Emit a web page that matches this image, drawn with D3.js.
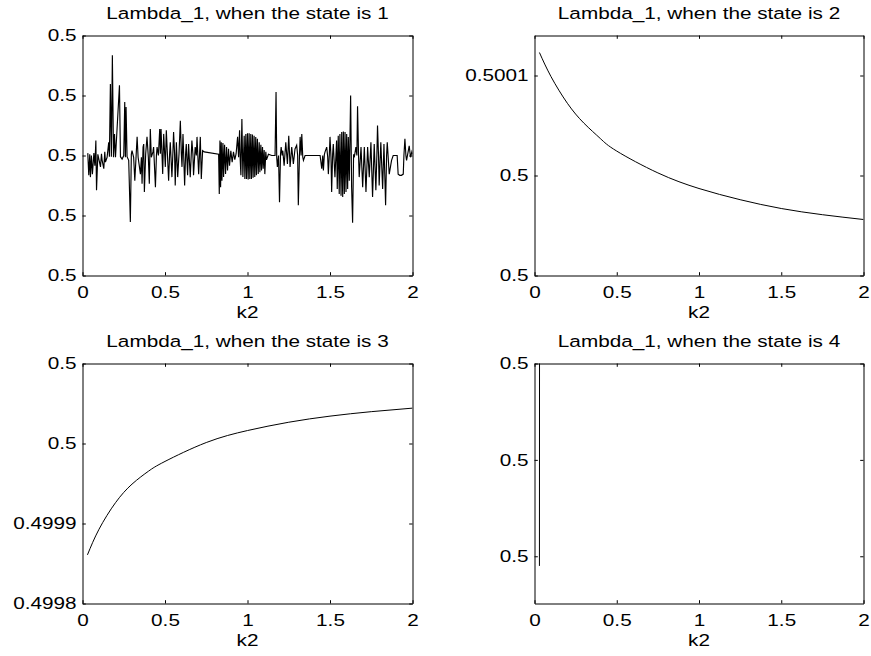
<!DOCTYPE html>
<html><head><meta charset="utf-8">
<script src="https://cdn.jsdelivr.net/npm/d3@7"></script>
<style>
body{margin:0;background:#fff}
svg text{font-family:"Liberation Sans",Arial,Helvetica,sans-serif;fill:#000}
</style></head>
<body><svg id="c" width="871" height="656"></svg>
<script>
// ---------- data ----------
const xTicks=[0,0.5,1,1.5,2];
const xTickLabels=["0","0.5","1","1.5","2"];
const xLabel="k2";
const titles=["Lambda_1, when the state is 1","Lambda_1, when the state is 2","Lambda_1, when the state is 3","Lambda_1, when the state is 4"];

// state 1 (noisy)
const s1x=[0.032,0.038,0.044,0.048,0.054,0.060,0.069,0.075,0.081,0.085,0.093,0.109,0.115,0.119,0.129,0.135,0.139,0.149,0.159,0.163,
0.169,0.175,0.181,0.188,0.194,0.200,0.224,0.230,0.240,0.250,0.256,0.260,0.264,0.270,0.280,0.290,0.296,0.300,0.310,0.317,
0.325,0.331,0.337,0.351,0.357,0.361,0.367,0.371,0.375,0.383,0.391,0.399,0.405,0.411,0.417,0.427,0.431,0.442,0.448,0.452,
0.460,0.468,0.472,0.476,0.482,0.486,0.492,0.498,0.502,0.508,0.514,0.522,0.528,0.532,0.542,0.548,0.552,0.558,0.562,0.569,
0.577,0.585,0.593,0.599,0.603,0.609,0.613,0.619,0.625,0.629,0.637,0.643,0.653,0.663,0.669,0.673,0.683,0.690,0.694,0.704,
0.714,0.720,0.728,0.738,0.825,0.829,0.833,0.837,0.841,0.845,0.851,0.855,0.861,0.867,0.873,0.879,0.885,0.891,0.899,0.907,
0.915,0.923,0.931,0.940,0.946,0.952,0.956,0.960,0.966,0.972,0.980,0.984,0.990,0.994,1.000,1.004,1.010,1.014,1.020,1.024,
1.030,1.034,1.040,1.044,1.050,1.054,1.060,1.065,1.071,1.075,1.081,1.085,1.091,1.095,1.101,1.105,1.111,1.115,1.127,1.147,
1.167,1.173,1.177,1.181,1.188,1.194,1.200,1.204,1.210,1.214,1.222,1.232,1.242,1.250,1.258,1.268,1.278,1.288,1.298,1.304,
1.308,1.315,1.319,1.325,1.329,1.335,1.339,1.349,1.440,1.450,1.456,1.460,1.466,1.470,1.480,1.486,1.490,1.496,1.500,1.506,
1.510,1.516,1.520,1.530,1.540,1.544,1.550,1.556,1.560,1.567,1.571,1.577,1.581,1.587,1.591,1.597,1.601,1.607,1.611,1.617,
1.625,1.631,1.637,1.643,1.647,1.657,1.663,1.667,1.673,1.677,1.688,1.698,1.708,1.718,1.728,1.738,1.748,1.758,1.768,1.778,
1.784,1.788,1.794,1.798,1.808,1.819,1.827,1.837,1.843,1.847,1.859,1.873,1.883,1.907,1.913,1.923,1.933,1.944,1.948,1.954,
1.960,1.964,1.980,1.988,1.996,2.000];
const s1y=[0.5000004,0.4999967,0.5000002,0.4999964,0.5,0.4999969,0.5000004,0.4999983,0.5000025,0.4999942,0.5000002,0.4999981,0.5000003,0.4999992,0.4999978,0.5000006,0.4999989,0.4999997,0.5000022,0.4999998,
0.5000119,0.4999998,0.5000167,0.4999997,0.5000036,0.4999997,0.5000117,0.4999998,0.4999994,0.5,0.5000089,0.4999997,0.5000081,0.4999998,0.4999992,0.4999889,0.5000002,0.5000008,0.4999997,0.4999958,
0.5,0.5000031,0.4999997,0.4999969,0.4999997,0.4999953,0.5000014,0.5000019,0.4999939,0.5000003,0.5000031,0.4999997,0.4999953,0.5000044,0.4999997,0.5000006,0.5000014,0.4999947,0.5,0.5000014,
0.5,0.5000044,0.5000003,0.5000044,0.5,0.4999969,0.5000036,0.5000003,0.4999981,0.5000042,0.5000006,0.4999958,0.5000003,0.5000022,0.4999964,0.5000006,0.5000039,0.5000003,0.499995,0.5000022,
0.4999964,0.5000003,0.5000058,0.5000003,0.4999981,0.5000036,0.5000003,0.499995,0.5000003,0.5000019,0.4999967,0.5000019,0.4999964,0.5000025,0.5000003,0.4999967,0.5000014,0.5,0.5000031,0.4999969,
0.5000031,0.4999961,0.5000008,0.5000006,0.5000002,0.4999936,0.5000025,0.4999947,0.5000022,0.4999958,0.5000021,0.4999964,0.5000018,0.4999969,0.5000014,0.4999975,0.5000011,0.4999983,0.5000008,0.4999989,
0.5000006,0.4999993,0.5000003,0.5000031,0.4999997,0.5000042,0.4999992,0.4999967,0.5000061,0.4999964,0.5000033,0.4999961,0.5000036,0.4999961,0.5000037,0.499996,0.5000037,0.4999961,0.5000036,0.4999961,
0.5000035,0.4999963,0.5000033,0.4999964,0.5000031,0.4999967,0.5000028,0.4999969,0.5000022,0.4999972,0.5000018,0.4999975,0.5000014,0.4999978,0.5000009,0.4999969,0.5000006,0.4999993,0.5000002,0.5,
0.5,0.5000106,0.4999997,0.4999981,0.5,0.4999922,0.5000002,0.5000014,0.5,0.5000008,0.4999983,0.5000022,0.4999986,0.5000033,0.4999981,0.5000014,0.4999986,0.5000011,0.5000017,0.5,
0.4999917,0.5,0.5000031,0.5,0.5000036,0.4999997,0.4999992,0.5,0.5,0.4999978,0.5,0.4999975,0.5000002,0.5000006,0.5000014,0.4999998,0.4999969,0.5000002,0.5000031,0.4999997,
0.4999939,0.5000002,0.5000019,0.4999964,0.5000025,0.4999944,0.5000033,0.4999936,0.5000036,0.4999933,0.5000039,0.4999931,0.500004,0.4999936,0.5000039,0.4999939,0.5000036,0.4999944,0.5000031,0.4999958,
0.50001,0.4999947,0.4999888,0.5000002,0.4999997,0.5000014,0.5,0.5000082,0.5,0.4999964,0.5000014,0.4999947,0.5000014,0.4999939,0.5000014,0.4999964,0.5000022,0.4999931,0.5000019,0.4999942,
0.5,0.500005,0.5,0.499995,0.5000022,0.4999944,0.5000019,0.4999917,0.5,0.5000022,0.4999969,0.4999992,0.5,0.5,0.4999969,0.4999967,0.4999967,0.4999969,0.5,0.5000028,
0.5,0.4999992,0.5000016,0.4999997,0.5000006,0.5000002];
const y1Domain=[0.49998,0.50002];
const y1Ticks=[0.49998,0.49999,0.5,0.50001,0.50002];
const y1Labels=["0.5","0.5","0.5","0.5","0.5"];

// state 2
const s2x=[0.03,0.1,0.2,0.3,0.4,0.5,0.75,1,1.25,1.5,1.75,2];
const s2y=[0.5001115,0.5000995,0.5000861,0.5000762,0.5000685,0.5000622,0.5000513,0.5000435,0.5000379,0.5000335,0.5000304,0.5000280];
const y2Domain=[0.5,0.50012];
const y2Ticks=[0.5,0.50005,0.5001];
const y2Labels=["0.5","0.5","0.5001"];

// state 3
const s3x=[0.03,0.1,0.2,0.3,0.4,0.5,0.75,1,1.25,1.5,1.75,2];
const s3y=[0.4998804,0.4998964,0.4999130,0.4999246,0.4999327,0.4999388,0.4999506,0.4999581,0.4999633,0.4999671,0.4999699,0.4999721];
const y3Domain=[0.49985,0.5];
const y3Ticks=[0.49985,0.4999,0.49995,0.5];
const y3Labels=["0.4998","0.4999","0.5","0.5"];

// state 4
const s4x=[0.030,0.031];
const s4y=[0.4999989,0.5000030];
const y4Domain=[0.49999851,0.500001];
const y4Ticks=[0.499999,0.5,0.500001];
const y4Labels=["0.5","0.5","0.5"];

// ---------- layout ----------
const FS=17, SX=1.22, TL=3.3;
const svg=d3.select("#c");
const boxes=[
  {l:82.5,r:412.5,t:35.5,b:275.5},
  {l:534.5,r:863.5,t:35.5,b:275.5},
  {l:82.5,r:412.5,t:363.5,b:603.5},
  {l:534.5,r:863.5,t:363.5,b:603.5}
];

function styleAxis(g){
  g.attr("font-family",null).attr("font-size",null);
  g.selectAll("path.domain").attr("stroke","#000").attr("stroke-width",1);
  g.selectAll(".tick line").attr("stroke","#000").attr("stroke-width",1);
  g.selectAll("text").attr("font-size",FS).attr("fill","#000");
}

function panel(i,xs,ys,yDomain,yTicks,yLabels,curve,sw){
  const b=boxes[i];
  const g=svg.append("g");
  const x=d3.scaleLinear().domain([0,2]).range([b.l,b.r]);
  const y=d3.scaleLinear().domain(yDomain).range([b.b,b.t]);
  const cid="clip"+i;
  g.append("clipPath").attr("id",cid).append("rect")
    .attr("x",b.l).attr("y",b.t).attr("width",b.r-b.l).attr("height",b.b-b.t);
  const pts=xs.map((v,k)=>[v,ys[k]]);
  g.append("path").datum(pts)
    .attr("clip-path",`url(#${cid})`)
    .attr("fill","none").attr("stroke","#000").attr("stroke-width",sw)
    .attr("stroke-linejoin","miter")
    .attr("d",d3.line().x(d=>x(d[0])).y(d=>y(d[1])).curve(curve));

  const gb=g.append("g").attr("transform",`translate(0,${b.b})`)
    .call(d3.axisBottom(x).tickValues(xTicks).tickFormat((d,k)=>xTickLabels[k]).tickSizeInner(-TL).tickSizeOuter(0).tickPadding(10.6));
  const gt=g.append("g").attr("transform",`translate(0,${b.t})`)
    .call(d3.axisTop(x).tickValues(xTicks).tickFormat(()=>"").tickSizeInner(-TL).tickSizeOuter(0));
  const gl=g.append("g").attr("transform",`translate(${b.l},0)`)
    .call(d3.axisLeft(y).tickValues(yTicks).tickFormat((d,k)=>yLabels[k]).tickSizeInner(-TL).tickSizeOuter(0).tickPadding(4.8));
  const gr=g.append("g").attr("transform",`translate(${b.r},0)`)
    .call(d3.axisRight(y).tickValues(yTicks).tickFormat(()=>"").tickSizeInner(-TL).tickSizeOuter(0));
  [gb,gt,gl,gr].forEach(styleAxis);
  gb.selectAll("text").attr("transform",`scale(${SX},1)`);
  gl.selectAll("text").attr("transform",`scale(${SX},1)`);

  const cx=(b.l+b.r)/2;
  g.append("text").attr("text-anchor","middle").attr("font-size",FS)
    .attr("transform",`translate(${cx},${b.t-16.2}) scale(${SX},1)`).text(titles[i]);
  g.append("text").attr("text-anchor","middle").attr("font-size",FS)
    .attr("transform",`translate(${cx},${b.b+42.8}) scale(${SX},1)`).text(xLabel);
}

panel(0,s1x,s1y,y1Domain,y1Ticks,y1Labels,d3.curveLinear,1.15);
panel(1,s2x,s2y,y2Domain,y2Ticks,y2Labels,d3.curveNatural,1);
panel(2,s3x,s3y,y3Domain,y3Ticks,y3Labels,d3.curveNatural,1);
panel(3,s4x,s4y,y4Domain,y4Ticks,y4Labels,d3.curveLinear,1);
</script>
</body></html>
